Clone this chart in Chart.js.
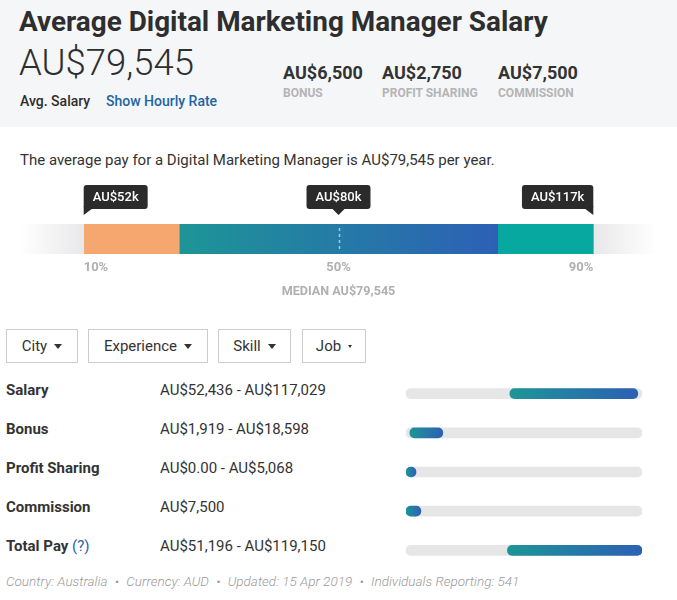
<!DOCTYPE html>
<html>
<head>
<meta charset="utf-8">
<script src="https://cdn.jsdelivr.net/npm/chart.js@4"></script>
<style>
  body { margin: 0; width: 677px; height: 600px; overflow: hidden; background: #fff; font-family: Roboto, sans-serif; color: #333; }
  .abs { position: absolute; white-space: nowrap; line-height: 1; }
  .head { position: absolute; left: 0; top: 0; width: 677px; height: 127px; background: #f5f6f8; }
  .title { left: 19px; top: 8px; font-size: 27.9px; font-weight: 700; color: #2e2e2e; }
  .big { left: 19px; top: 45px; font-size: 36.5px; font-weight: 300; color: #2e2e2e; }
  .avg { left: 20px; top: 94px; font-size: 14px; font-weight: 500; color: #2e2e2e; }
  .hourly { left: 106px; top: 94px; font-size: 14px; font-weight: 500; color: #1d65a6; }
  .statv { top: 64px; font-size: 18px; font-weight: 700; color: #333; }
  .statl { top: 87px; font-size: 12px; font-weight: 700; color: #b4b4b4; }
  .sentence { left: 20px; top: 153px; font-size: 15px; color: #333; }
  .btn { position: absolute; top: 329px; height: 32px; border: 1px solid #ccc; display: flex; align-items: center; justify-content: center; font-size: 15px; color: #333; box-sizing: content-box; }
  .caret { display: inline-block; margin-left: 7px; border-left: 4px solid transparent; border-right: 4px solid transparent; border-top: 5px solid #333; }
  .caret.small { border-left-width: 2.5px; border-right-width: 2.5px; border-top-width: 3px; }
  .rlabel { left: 6px; font-size: 15px; font-weight: 700; color: #333; }
  .rvalue { left: 160px; font-size: 15px; color: #333; }
  .help { color: #1d65a6; font-weight: 400; }
  .foot { left: 6px; top: 575px; font-size: 13.5px; font-style: italic; font-weight: 300; color: #9a9a9a; }
  .foot .dot { margin: 0 4px; }
  #rangeWrap { position: absolute; left: 0; top: 180px; width: 677px; height: 125px; }
  #rowsWrap { position: absolute; left: 400px; top: 374px; width: 260px; height: 196px; }
</style>
</head>
<body>
<div class="head"></div>
<div class="abs title">Average Digital Marketing Manager Salary</div>
<div class="abs big">AU$79,545</div>
<div class="abs avg">Avg. Salary</div>
<div class="abs hourly">Show Hourly Rate</div>
<div class="abs statv" style="left:283px">AU$6,500</div>
<div class="abs statl" style="left:283px">BONUS</div>
<div class="abs statv" style="left:382px">AU$2,750</div>
<div class="abs statl" style="left:382px">PROFIT SHARING</div>
<div class="abs statv" style="left:498px">AU$7,500</div>
<div class="abs statl" style="left:498px">COMMISSION</div>

<div class="abs sentence">The average pay for a Digital Marketing Manager is AU$79,545 per year.</div>

<div id="rangeWrap"><canvas id="rangeChart"></canvas></div>

<div class="btn" style="left:6px;width:70px">City<span class="caret"></span></div>
<div class="btn" style="left:88px;width:118px">Experience<span class="caret"></span></div>
<div class="btn" style="left:218px;width:71px">Skill<span class="caret"></span></div>
<div class="btn" style="left:302px;width:62px">Job<span class="caret small"></span></div>

<div id="rowLabels"></div>
<div id="rowsWrap"><canvas id="rowsChart"></canvas></div>

<div class="abs foot">Country: Australia <span class="dot">&bull;</span> Currency: AUD <span class="dot">&bull;</span> Updated: 15 Apr 2019 <span class="dot">&bull;</span> Individuals Reporting: 541</div>

<script>
// Данные для шкалы процентилей
const bandEdges = [0, 10, 25, 75, 90, 100];
const markerPercentiles = [10, 50, 90];
const markerSalaries = ["AU$52k", "AU$80k", "AU$117k"];
const markerLabels = ["10%", "50%", "90%"];
const medianLabel = "MEDIAN AU$79,545";

// Данные для диапазонов оплаты
const payCategories = ["Salary", "Bonus", "Profit Sharing", "Commission", "Total Pay"];
const payRangeText = ["AU$52,436 - AU$117,029", "AU$1,919 - AU$18,598", "AU$0.00 - AU$5,068", "AU$7,500", "AU$51,196 - AU$119,150"];
const payLow = [52436, 1919, 0, 0, 51196];
const payHigh = [117029, 18598, 5068, 7500, 119150];

// Подписи строк (HTML)
const rowLabels = document.getElementById("rowLabels");
payCategories.forEach((name, i) => {
  const top = 383 + i * 39;
  const help = name === "Total Pay" ? ' <span class="help">(?)</span>' : "";
  rowLabels.innerHTML +=
    `<div class="abs rlabel" style="top:${top}px">${name}${help}</div>` +
    `<div class="abs rvalue" style="top:${top}px">${payRangeText[i]}</div>`;
});

// Цвета сегментов
function bandColor(chart, i) {
  const area = chart.chartArea;
  const x = chart.scales.x;
  if (!area) return "#ddd";
  const ctx = chart.ctx;
  if (i === 0) {
    const g = ctx.createLinearGradient(x.getPixelForValue(bandEdges[0]), 0, x.getPixelForValue(bandEdges[1]), 0);
    g.addColorStop(0, "rgba(232,232,234,0)");
    g.addColorStop(1, "#e8e8ea");
    return g;
  }
  if (i === 1) return "#f5a76f";
  if (i === 2) {
    const g = ctx.createLinearGradient(x.getPixelForValue(bandEdges[2]), 0, x.getPixelForValue(bandEdges[3]), 0);
    g.addColorStop(0, "#1d9597");
    g.addColorStop(1, "#2d60b5");
    return g;
  }
  if (i === 3) return "#07a8a0";
  const g = ctx.createLinearGradient(x.getPixelForValue(bandEdges[4]), 0, x.getPixelForValue(bandEdges[5]), 0);
  g.addColorStop(0, "#e8e8ea");
  g.addColorStop(1, "rgba(232,232,234,0)");
  return g;
}

const bandDatasets = [];
for (let i = 0; i < bandEdges.length - 1; i++) {
  bandDatasets.push({
    data: [bandEdges[i + 1] - bandEdges[i]],
    backgroundColor: (c) => bandColor(c.chart, i),
    borderWidth: 0,
    barPercentage: 1,
    categoryPercentage: 1,
  });
}

// Плагин для подписей над и под шкалой
const markerPlugin = {
  id: "markers",
  afterDatasetsDraw(chart) {
    const ctx = chart.ctx;
    const x = chart.scales.x;
    const area = chart.chartArea;
    ctx.save();

    // пунктир на медиане
    const mx = Math.round(x.getPixelForValue(markerPercentiles[1])) + 0.5;
    ctx.strokeStyle = "#8fd3f2";
    ctx.lineWidth = 1.5;
    ctx.setLineDash([3, 3]);
    ctx.beginPath();
    ctx.moveTo(mx, area.top + 4);
    ctx.lineTo(mx, area.bottom - 5);
    ctx.stroke();
    ctx.setLineDash([]);

    ctx.textBaseline = "middle";
    markerPercentiles.forEach((p, i) => {
      const px = x.getPixelForValue(p);
      ctx.font = "500 13px Roboto";
      const w = ctx.measureText(markerSalaries[i]).width + 18;
      const h = 24;
      const top = 5;
      let left = px - w / 2;
      if (i === 0) left = px;
      if (i === markerPercentiles.length - 1) left = px - w;
      ctx.fillStyle = "#2b2b2b";
      ctx.beginPath();
      ctx.roundRect(left, top, w, h, 3);
      ctx.fill();
      ctx.beginPath();
      if (i === 0) {
        ctx.moveTo(px, top + h - 3);
        ctx.lineTo(px + 8, top + h);
        ctx.lineTo(px, top + h + 6);
      } else if (i === markerPercentiles.length - 1) {
        ctx.moveTo(px, top + h - 3);
        ctx.lineTo(px - 8, top + h);
        ctx.lineTo(px, top + h + 6);
      } else {
        ctx.moveTo(px - 6, top + h);
        ctx.lineTo(px + 6, top + h);
        ctx.lineTo(px, top + h + 6);
      }
      ctx.closePath();
      ctx.fill();
      ctx.fillStyle = "#fff";
      ctx.textAlign = "center";
      ctx.fillText(markerSalaries[i], left + w / 2, top + h / 2 + 1);

      // проценты под шкалой
      ctx.fillStyle = "#b0b0b0";
      ctx.font = "700 13px Roboto";
      ctx.textAlign = i === 0 ? "left" : i === markerPercentiles.length - 1 ? "right" : "center";
      ctx.fillText(markerLabels[i], px, 88);
    });

    ctx.fillStyle = "#b0b0b0";
    ctx.font = "700 12.6px Roboto";
    ctx.textAlign = "center";
    ctx.fillText(medianLabel, x.getPixelForValue(markerPercentiles[1]), 112);
    ctx.restore();
  },
};

new Chart(document.getElementById("rangeChart"), {
  type: "bar",
  data: { labels: [""], datasets: bandDatasets },
  options: {
    indexAxis: "y",
    responsive: true,
    maintainAspectRatio: false,
    animation: false,
    layout: { padding: { left: 20, right: 20, top: 44, bottom: 51 } },
    plugins: { legend: { display: false }, tooltip: { enabled: false } },
    scales: {
      x: { stacked: true, min: bandEdges[0], max: bandEdges[bandEdges.length - 1], display: false },
      y: { stacked: true, display: false },
    },
  },
  plugins: [markerPlugin],
});

// Градиент для полос диапазонов
function rangeColor(c) {
  const chart = c.chart;
  if (!chart.chartArea || !c.raw) return "#1d8fa0";
  const x = chart.scales.x;
  const x0 = x.getPixelForValue(c.raw[0]);
  let x1 = x.getPixelForValue(c.raw[1]);
  if (x1 - x0 < 2) x1 = x0 + 2;
  const g = chart.ctx.createLinearGradient(x0, 0, x1, 0);
  g.addColorStop(0, "#1d9597");
  g.addColorStop(1, "#2d60b5");
  return g;
}

const payMax = Math.max(...payHigh);

new Chart(document.getElementById("rowsChart"), {
  type: "bar",
  data: {
    labels: payCategories,
    datasets: [
      {
        data: payLow.map((v, i) => [v, payHigh[i]]),
        backgroundColor: rangeColor,
        borderRadius: 5,
        borderSkipped: false,
        barThickness: 10,
        grouped: false,
      },
      {
        data: payLow.map(() => [0, payMax]),
        backgroundColor: "#e6e6e6",
        borderRadius: 5,
        borderSkipped: false,
        barThickness: 10,
        grouped: false,
      },
    ],
  },
  options: {
    indexAxis: "y",
    responsive: true,
    maintainAspectRatio: false,
    animation: false,
    layout: { padding: { left: 6, right: 18, top: 0, bottom: 0 } },
    plugins: { legend: { display: false }, tooltip: { enabled: false } },
    scales: {
      x: { min: 0, max: payMax, display: false },
      y: { display: false },
    },
  },
});
</script>
</body>
</html>
